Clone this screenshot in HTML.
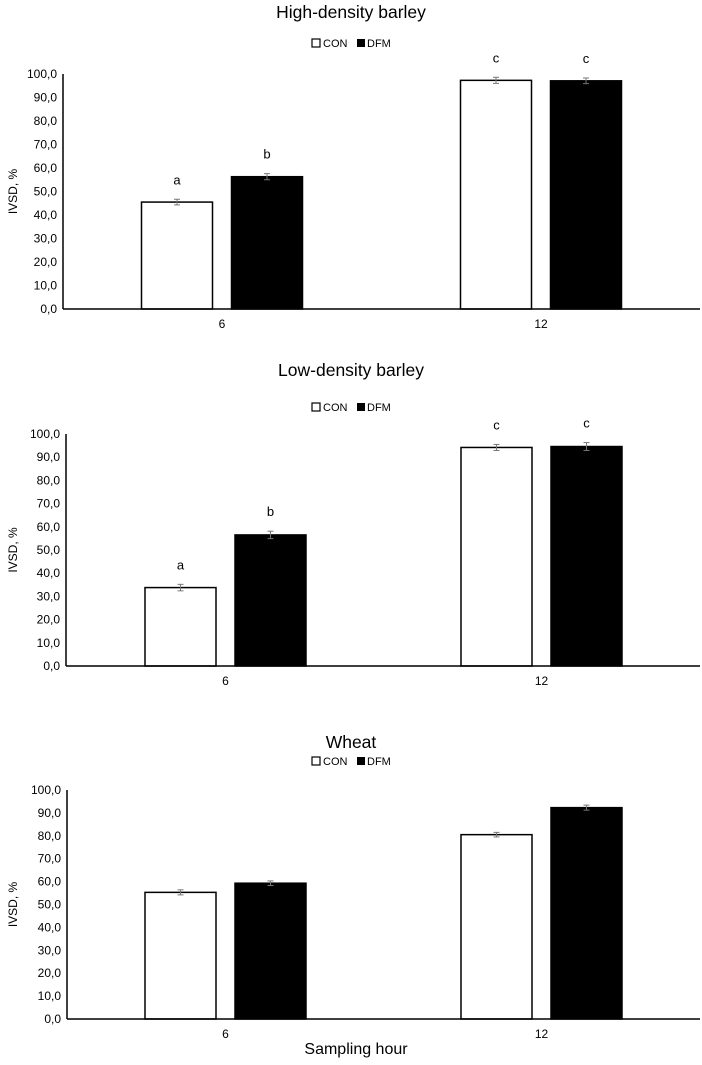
<!DOCTYPE html>
<html><head><meta charset="utf-8">
<style>
html,body{margin:0;padding:0;background:#fff;}
svg{display:block;font-family:"Liberation Sans",Calibri,sans-serif;}
</style></head>
<body>
<svg id="chart" width="702" height="1065" viewBox="0 0 702 1065" xmlns="http://www.w3.org/2000/svg"></svg>
<script>
const titles = ["High-density barley", "Low-density barley", "Wheat"];
const categories = ["6", "12"];
const seriesNames = ["CON", "DFM"];
const conValues = [[45.5, 97.3], [33.8, 94.2], [55.3, 80.5]];
const dfmValues = [[56.3, 97.1], [56.5, 94.6], [59.3, 92.3]];
const conErrors = [[1.2, 1.3], [1.4, 1.3], [1.1, 1.0]];
const dfmErrors = [[1.3, 1.2], [1.6, 1.7], [1.0, 1.1]];
const conLetters = [["a", "c"], ["a", "c"], ["", ""]];
const dfmLetters = [["b", "c"], ["b", "c"], ["", ""]];
const yTicks = [0, 10, 20, 30, 40, 50, 60, 70, 80, 90, 100];
const yTickLabels = ["0,0","10,0","20,0","30,0","40,0","50,0","60,0","70,0","80,0","90,0","100,0"];

const panels = [
  {titleY: 18, legendY: 44, top: 74, base: 309, axisX: 63, centers: [222, 541]},
  {titleY: 376, legendY: 408, top: 434, base: 666, axisX: 66, centers: [225.5, 541.5]},
  {titleY: 748, legendY: 762, top: 790, base: 1019, axisX: 67, centers: [225.5, 541.5]}
];
const svg = document.getElementById('chart');
const NS = 'http://www.w3.org/2000/svg';
function mk(tag, attrs, parent, text) {
  const e = document.createElementNS(NS, tag);
  for (const k in attrs) e.setAttribute(k, attrs[k]);
  if (text !== undefined) e.textContent = text;
  parent.appendChild(e);
  return e;
}
const barW = 71, gap = 19;

panels.forEach((p, pi) => {
  const g = mk('g', {}, svg);
  
  
  const y = v => p.base - (v / 100) * (p.base - p.top);
  const t = mk('text', {x: 351, y: p.titleY, 'text-anchor': 'middle', 'font-size': 17.5, fill: '#000'}, g, titles[pi]);
  
  
  const lg = mk('g', {}, g);
  
  
  mk('rect', {x: 312, y: p.legendY - 5, width: 8, height: 8, fill: '#fff', stroke: '#000', 'stroke-width': 1.2}, lg);
  mk('text', {x: 323, y: p.legendY + 3, 'font-size': 11}, lg, seriesNames[0]);
  mk('rect', {x: 357, y: p.legendY - 5, width: 8, height: 8, fill: '#000'}, lg);
  mk('text', {x: 367, y: p.legendY + 3, 'font-size': 11}, lg, seriesNames[1]);
  yTicks.forEach((v, i) => {
    const tl = mk('text', {x: p.axisX - 6, y: y(v) + 4, 'text-anchor': 'end', 'font-size': 12}, g, yTickLabels[i]);
    
    
  });
  const yt = mk('text', {transform: `translate(17,${(p.top + p.base) / 2}) rotate(-90)`, 'text-anchor': 'middle', 'font-size': 12}, g, 'IVSD, %');
  
  
  categories.forEach((c, ci) => {
    const cx = p.centers[ci];
    [[conValues, conErrors, conLetters, '#fff'], [dfmValues, dfmErrors, dfmLetters, '#000']].forEach((s, si) => {
      const v = s[0][pi][ci], err = s[1][pi][ci], letter = s[2][pi][ci];
      const x0 = si === 0 ? cx - gap / 2 - barW : cx + gap / 2;
      const r = mk('rect', {x: x0, y: y(v), width: barW, height: p.base - y(v), fill: s[3], stroke: '#000', 'stroke-width': 1.5}, g);
      
      
      const mx = x0 + barW / 2;
      const ec = '#777';
      mk('line', {x1: mx, x2: mx, y1: y(v + err), y2: y(v - err), stroke: ec, 'stroke-width': 1}, g);
      mk('line', {x1: mx - 3, x2: mx + 3, y1: y(v + err), y2: y(v + err), stroke: ec, 'stroke-width': 1}, g);
      mk('line', {x1: mx - 3, x2: mx + 3, y1: y(v - err), y2: y(v - err), stroke: ec, 'stroke-width': 1}, g);
      if (letter) {
        const lt = mk('text', {x: mx, y: y(v + err) - 15, 'text-anchor': 'middle', 'font-size': 13}, g, letter);
        
        
      }
    });
    const xl = mk('text', {x: cx, y: p.base + 19, 'text-anchor': 'middle', 'font-size': 12}, g, c);
    
    
  });
  const ya = mk('line', {x1: p.axisX, x2: p.axisX, y1: p.top, y2: p.base, stroke: '#000', 'stroke-width': 1.5}, g);
  
  
  const xa = mk('line', {x1: p.axisX, x2: 700, y1: p.base, y2: p.base, stroke: '#000', 'stroke-width': 1.5}, g);
  
  
});
const xt = mk('text', {x: 356, y: 1054, 'text-anchor': 'middle', 'font-size': 16}, svg, 'Sampling hour');


</script>
</body></html>
